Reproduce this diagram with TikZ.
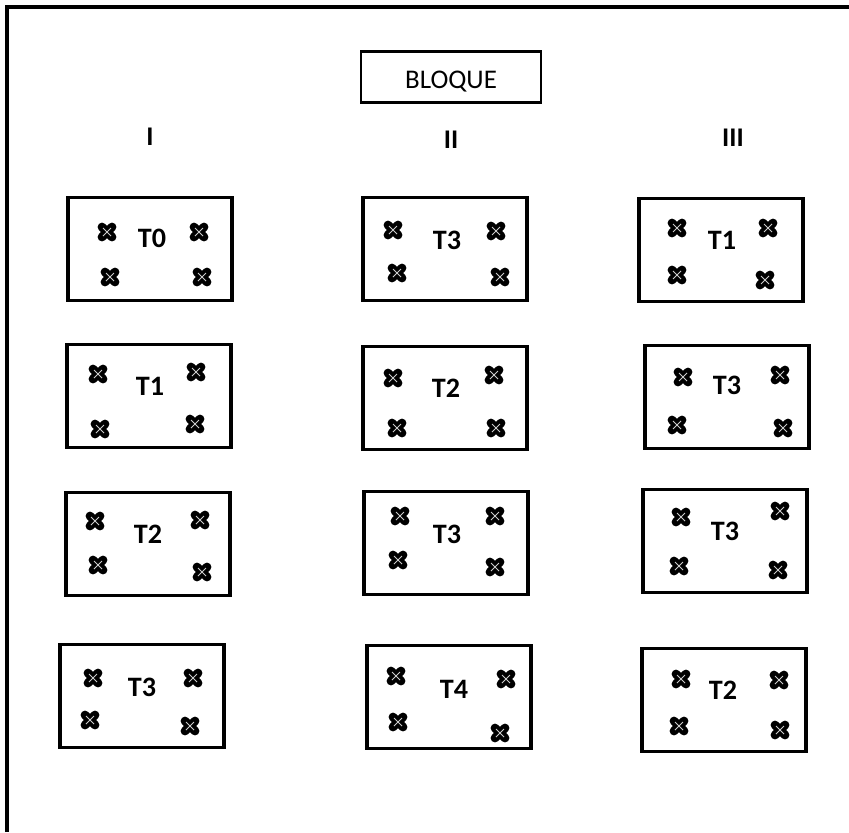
\documentclass[tikz,border=0pt]{standalone}
\usepackage{fontspec}
\setmainfont{Carlito}
\begin{document}
\begin{tikzpicture}[x=0.03cm, y=-0.03cm,
		parcela/.style={draw, line width=2.8pt, minimum width=4.92cm, minimum height=3.09cm, inner sep=0pt},
		trat/.style={font=\fontsize{24}{28}\selectfont\bfseries, inner sep=0pt},
		bloque/.style={font=\fontsize{23}{27}\selectfont\bfseries, inner sep=0pt},
		planta/.pic={
			\draw[line width=7.5pt, line cap=round] (-5,-5) -- (5,5) (-5,5) -- (5,-5);
			\draw[white!60!gray, line width=0.7pt] (-4,-4) -- (4,4) (-4,4) -- (4,-4);
		}]
		\useasboundingbox (0,0) rectangle (849,832);
		% marco
		\coordinate (M0) at (7,832);
		\coordinate (M1) at (7,7);
		\coordinate (M2) at (849,7);
		\draw[line width=2.8pt] (M0) -- (M1) -- (M2);
		\node[draw, line width=1.8pt, minimum width=5.4cm, minimum height=1.53cm] (BQ) at (451,77) {};
		\node[font=\fontsize{23}{27}\selectfont] (BT) at (451,82) {BLOQUE};
		\node[bloque] (B1) at (150,137) {I};
		\node[bloque] (B2) at (451,140) {II};
		\node[bloque] (B3) at (733,138) {III};
		% bloque I
		\node[parcela] (P11) at (150,249) {};
		\node[trat] (L11) at (152,238) {T0};
		\path (107,232) pic {planta} (199,232) pic {planta} (110,277) pic {planta} (202,277) pic {planta};
		\node[parcela] (P12) at (149,396) {};
		\node[trat] (L12) at (150,386) {T1};
		\path (98,374) pic {planta} (196,372) pic {planta} (100,429) pic {planta} (195,424) pic {planta};
		\node[parcela] (P13) at (148,544) {};
		\node[trat] (L13) at (148,534) {T2};
		\path (95,521) pic {planta} (200,520) pic {planta} (98,565) pic {planta} (202,572) pic {planta};
		\node[parcela] (P14) at (142,696) {};
		\node[trat] (L14) at (142,687) {T3};
		\path (93,678) pic {planta} (193,678) pic {planta} (90,720) pic {planta} (190,726) pic {planta};
		% bloque II
		\node[parcela] (P21) at (445,249) {};
		\node[trat] (L21) at (447,240) {T3};
		\path (393,230) pic {planta} (496,231) pic {planta} (397,273) pic {planta} (500,277) pic {planta};
		\node[parcela] (P22) at (445,398) {};
		\node[trat] (L22) at (446,388) {T2};
		\path (393,378) pic {planta} (494,375) pic {planta} (397,428) pic {planta} (496,428) pic {planta};
		\node[parcela] (P23) at (446,543) {};
		\node[trat] (L23) at (447,534) {T3};
		\path (400,516) pic {planta} (495,516) pic {planta} (398,560) pic {planta} (495,567) pic {planta};
		\node[parcela] (P24) at (449,697) {};
		\node[trat] (L24) at (454,689) {T4};
		\path (396,676) pic {planta} (506,679) pic {planta} (398,722) pic {planta} (500,733) pic {planta};
		% bloque III
		\node[parcela] (P31) at (721,250) {};
		\node[trat] (L31) at (722,240) {T1};
		\path (677,228) pic {planta} (768,228) pic {planta} (677,275) pic {planta} (765,280) pic {planta};
		\node[parcela] (P32) at (727,397) {};
		\node[trat] (L32) at (727,385) {T3};
		\path (683,377) pic {planta} (780,375) pic {planta} (677,425) pic {planta} (783,428) pic {planta};
		\node[parcela] (P33) at (725,541) {};
		\node[trat] (L33) at (725,531) {T3};
		\path (681,517) pic {planta} (780,511) pic {planta} (679,566) pic {planta} (778,570) pic {planta};
		\node[parcela] (P34) at (724,700) {};
		\node[trat] (L34) at (723,690) {T2};
		\path (681,679) pic {planta} (779,680) pic {planta} (679,726) pic {planta} (780,730) pic {planta};
	\end{tikzpicture}
\end{document}
